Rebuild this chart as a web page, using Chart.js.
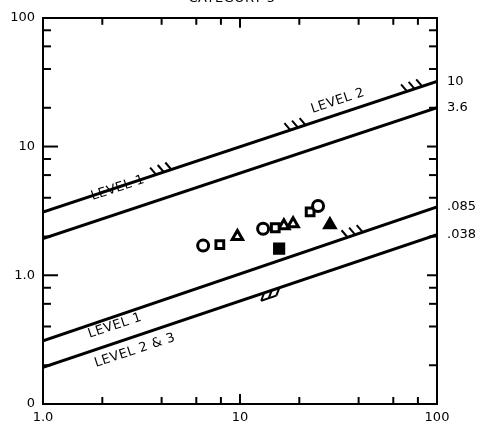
<!DOCTYPE html>
<html><head><meta charset="utf-8">
<script src="https://cdn.jsdelivr.net/npm/chart.js@4"></script>
<style>html,body{margin:0;padding:0;background:#fff}#wrap{width:492px;height:436px}</style>
</head><body><div id="wrap"><canvas id="c"></canvas></div>
<script>
const titleText = 'CATEGORY 5';
const xTickValues = [1, 10, 100];
const xTickLabels = ['1.0', '10', '100'];
const yTickValues = [0.1, 1, 10, 100];
const yTickLabels = ['0', '1.0', '10', '100'];
const xMinorTicks = [2, 4, 6, 8, 20, 40, 60, 80];
const xMajorInner = [10];
const yMinorTicks = [0.2, 0.4, 0.6, 0.8, 2, 4, 6, 8, 20, 40, 60, 80];
const yMajorInner = [1, 10];

// criterion lines (value at x=1 and x=100)
const lineX = [1, 100];
const level2Upper = [3.1, 32];
const level1Upper = [1.93, 20];
const level1Lower = [0.31, 3.4];
const level23Lower = [0.193, 2.07];
const rightLabels = ['10', '3.6', '.085', '.038'];

// observed points
const openCircleX = [6.5, 13.1, 24.9];
const openCircleY = [1.70, 2.30, 3.45];
const openSquareX = [7.9, 15.1, 22.7];
const openSquareY = [1.73, 2.34, 3.11];
const openTriangleX = [9.7, 16.7, 18.6];
const openTriangleY = [2.0, 2.43, 2.51];
const filledTriangleX = [28.6];
const filledTriangleY = [2.47];
const filledSquareX = [15.8];
const filledSquareY = [1.61];

const lines = [level2Upper, level1Upper, level1Lower, level23Lower];
const rightValues = lines.map(l => l[1]);

const pts = (xs, ys) => xs.map((x, i) => ({x, y: ys[i]}));
const linePts = vals => lineX.map((x, i) => ({x, y: vals[i]}));
const FONT = 'DejaVu Sans';

const lineDs = vals => ({type: 'scatter', data: linePts(vals), showLine: true, borderColor: '#000', borderWidth: 3, pointRadius: 0, fill: false, order: 2});
const ptDs = (data, style, fill, r, rot) => ({type: 'scatter', data, pointStyle: style, pointRadius: r, pointRotation: rot || 0, backgroundColor: fill, borderColor: '#000', pointBorderWidth: 3, borderWidth: 3, order: 1});

function valOnLine(vals, x) {
  const l0 = Math.log10(vals[0]), l1 = Math.log10(vals[1]);
  const t = (Math.log10(x) - Math.log10(lineX[0])) / (Math.log10(lineX[1]) - Math.log10(lineX[0]));
  return Math.pow(10, l0 + (l1 - l0) * t);
}

const decor = {
  id: 'decor',
  afterDraw(chart, args, opts) {
    const ctx = chart.ctx, xs = chart.scales.x, ys = chart.scales.y, a = chart.chartArea;
    const seg = (x1, y1, x2, y2) => { ctx.beginPath(); ctx.moveTo(x1, y1); ctx.lineTo(x2, y2); ctx.stroke(); };
    ctx.save();
    ctx.strokeStyle = '#000'; ctx.lineWidth = 2; ctx.lineCap = 'butt';
    xMinorTicks.forEach(v => { const p = xs.getPixelForValue(v); seg(p, a.bottom, p, a.bottom - 7); seg(p, a.top, p, a.top + 7); });
    xMajorInner.forEach(v => { const p = xs.getPixelForValue(v); seg(p, a.bottom, p, a.bottom - 10); seg(p, a.top, p, a.top + 10); });
    yMinorTicks.forEach(v => { const p = ys.getPixelForValue(v); seg(a.left, p, a.left + 8, p); seg(a.right, p, a.right - 8, p); });
    yMajorInner.forEach(v => { const p = ys.getPixelForValue(v); seg(a.left, p, a.left + 15, p); seg(a.right, p, a.right - 10, p); });

    // hatches
    ctx.lineWidth = 2;
    opts.hatches.forEach(h => {
      const vals = lines[h.line];
      const px = xs.getPixelForValue(h.x), py = ys.getPixelForValue(valOnLine(vals, h.x));
      const ang = Math.atan2(ys.getPixelForValue(vals[1]) - ys.getPixelForValue(vals[0]), xs.getPixelForValue(lineX[1]) - xs.getPixelForValue(lineX[0]));
      const ux = Math.cos(ang), uy = Math.sin(ang);
      [-1, 0, 1].forEach(k => {
        const bx = px + ux * 8 * k, by = py + uy * 8 * k;
        if (h.side === 'above') seg(bx, by, bx - 6, by - 7);
        else seg(bx, by, bx - 3, by + 8);
      });
      if (h.side === 'below') seg(px - ux * 8 - 3, py - uy * 8 + 8, px + ux * 8 - 3, py + uy * 8 + 8);
    });

    // line labels
    ctx.fillStyle = '#000';
    ctx.font = '13px "' + FONT + '"';
    ctx.textAlign = 'center'; ctx.textBaseline = 'middle';
    try { ctx.letterSpacing = '0.5px'; } catch (e) {}
    const ang = Math.atan2(ys.getPixelForValue(lines[0][1]) - ys.getPixelForValue(lines[0][0]), xs.getPixelForValue(lineX[1]) - xs.getPixelForValue(lineX[0]));
    opts.labels.forEach(l => {
      ctx.save();
      ctx.translate(xs.getPixelForValue(l.x), ys.getPixelForValue(l.y));
      ctx.rotate(ang);
      ctx.fillText(l.text, 0, 0);
      ctx.restore();
    });

    // clipped title (only its lower edge shows, as in the cropped original)
    ctx.textBaseline = 'alphabetic';
    ctx.font = '13px "' + FONT + '"';
    ctx.fillText(titleText, 232, 2);
    ctx.restore();
  }
};

const tickFont = {family: FONT, size: 13};
new Chart(document.getElementById('c'), {
  type: 'scatter',
  data: {
    datasets: [
      lineDs(level2Upper), lineDs(level1Upper), lineDs(level1Lower), lineDs(level23Lower),
      ptDs(pts(openCircleX, openCircleY), 'circle', '#fff', 5.5),
      ptDs(pts(openSquareX, openSquareY), 'rect', '#fff', 5.5),
      ptDs(pts(openTriangleX, openTriangleY), 'triangle', '#fff', 6),
      ptDs(pts(filledTriangleX, filledTriangleY), 'triangle', '#000', 6),
      ptDs(pts(filledSquareX, filledSquareY), 'rect', '#000', 6.5)
    ]
  },
  options: {
    responsive: true, maintainAspectRatio: false, animation: false,
    layout: {padding: 0},
    plugins: {
      legend: {display: false}, tooltip: {enabled: false}, title: {display: false},
      decor: {
        hatches: [
          {line: 0, x: 4.1, side: 'above'},
          {line: 0, x: 19.7, side: 'above'},
          {line: 0, x: 77, side: 'above'},
          {line: 2, x: 38.4, side: 'above'},
          {line: 3, x: 14.5, side: 'below'}
        ],
        labels: [
          {text: 'LEVEL 2', x: 31.4, y: 22.6},
          {text: 'LEVEL 1', x: 2.40, y: 4.75},
          {text: 'LEVEL 1', x: 2.32, y: 0.405},
          {text: 'LEVEL 2 & 3', x: 2.93, y: 0.26}
        ]
      }
    },
    scales: {
      x: {
        type: 'logarithmic', position: 'bottom', min: 1, max: 100,
        grid: {display: false, drawTicks: false},
        border: {display: true, color: '#000', width: 2},
        ticks: {color: '#000', font: tickFont, padding: 6, maxRotation: 0, autoSkip: false,
          callback: v => { const i = xTickValues.indexOf(v); return i >= 0 ? xTickLabels[i] : ''; }},
        afterBuildTicks: s => { s.ticks = xTickValues.map(v => ({value: v})); },
        afterFit: s => { s.height = 32; }
      },
      x2: {
        type: 'logarithmic', position: 'top', min: 1, max: 100,
        grid: {display: false, drawTicks: false},
        border: {display: true, color: '#000', width: 2},
        ticks: {display: false},
        afterFit: s => { s.height = 14; }
      },
      y: {
        type: 'logarithmic', position: 'left', min: 0.1, max: 100,
        grid: {display: false, drawTicks: false},
        border: {display: true, color: '#000', width: 2},
        ticks: {color: '#000', font: tickFont, padding: 8, autoSkip: false,
          callback: v => { const i = yTickValues.indexOf(v); return i >= 0 ? yTickLabels[i] : ''; }},
        afterBuildTicks: s => { s.ticks = yTickValues.map(v => ({value: v})); },
        afterFit: s => { s.width = 43; }
      },
      y2: {
        type: 'logarithmic', position: 'right', min: 0.1, max: 100,
        grid: {display: false, drawTicks: false},
        border: {display: true, color: '#000', width: 2},
        ticks: {color: '#000', font: tickFont, padding: 10, autoSkip: false,
          callback: v => { const i = rightValues.indexOf(v); return i >= 0 ? rightLabels[i] : ''; }},
        afterBuildTicks: s => { s.ticks = rightValues.map(v => ({value: v})); },
        afterFit: s => { s.width = 55; }
      }
    }
  },
  plugins: [decor]
});
</script>
</body></html>
